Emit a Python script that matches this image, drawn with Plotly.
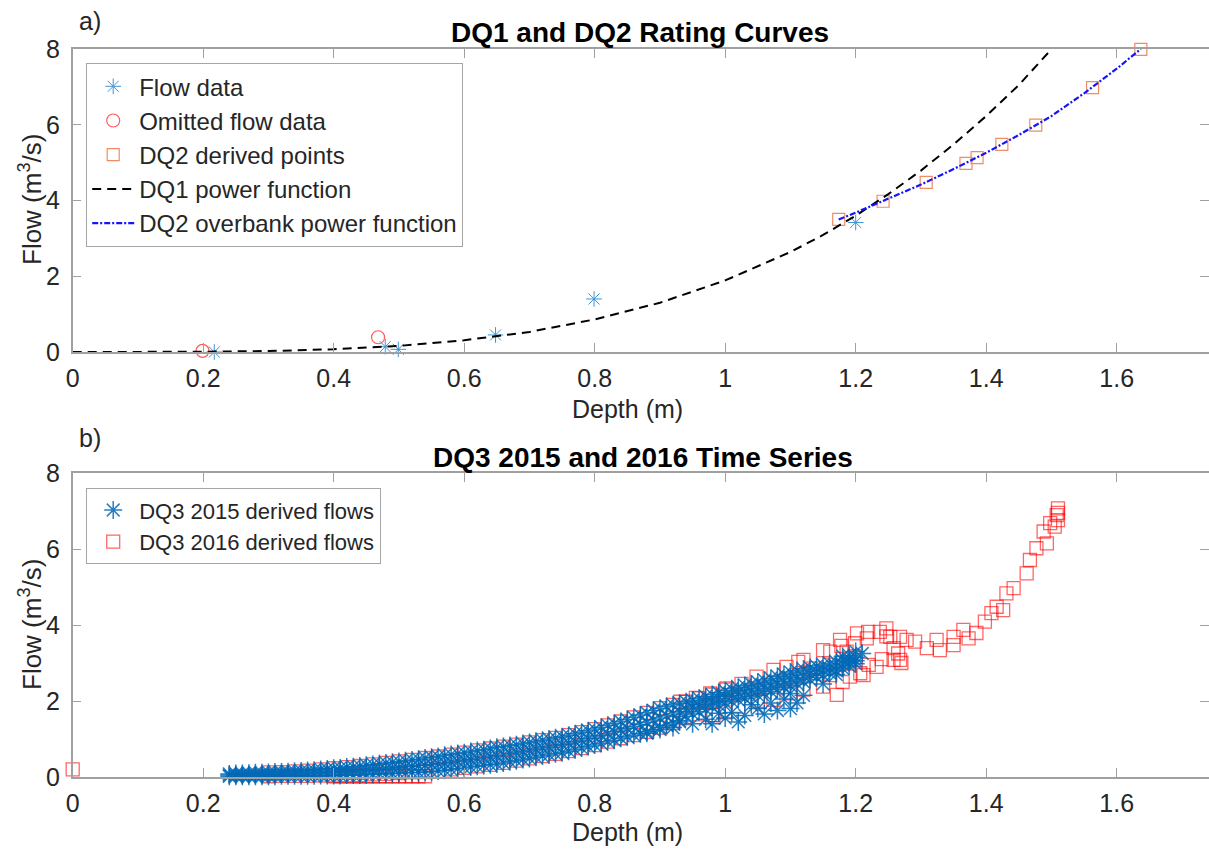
import plotly.graph_objects as go

# ---------------- Panel a) data ----------------
flow_depth = [0.217, 0.479, 0.499, 0.648, 0.799, 1.200]
flow_value = [0.00, 0.14, 0.07, 0.45, 1.40, 3.42]

omit_depth = [0.199, 0.468]
omit_value = [0.03, 0.39]

dq2_depth = [1.174, 1.242, 1.308, 1.369, 1.386, 1.424, 1.476, 1.563, 1.637]
dq2_value = [3.50, 3.98, 4.48, 4.98, 5.13, 5.48, 5.99, 6.98, 7.99]

dq1_curve_depth = [0.0, 0.1, 0.2, 0.3, 0.4, 0.5, 0.6, 0.7, 0.8, 0.9, 1.0, 1.1,
                   1.15, 1.2, 1.25, 1.3, 1.35, 1.4, 1.45, 1.495]
dq1_curve_flow = [0.0, 0.0005, 0.006, 0.026, 0.073, 0.16, 0.31, 0.53, 0.86, 1.30,
                  1.89, 2.64, 3.09, 3.60, 4.17, 4.79, 5.48, 6.23, 7.05, 7.90]

dq2_curve_depth = [1.174, 1.20, 1.25, 1.30, 1.35, 1.40, 1.45, 1.50, 1.55, 1.60, 1.637]
dq2_curve_flow = [3.50, 3.68, 4.05, 4.42, 4.83, 5.26, 5.73, 6.23, 6.83, 7.48, 8.00]

# ---------------- Panel b) data ----------------
depth_2015_band = [0.24, 0.25, 0.26, 0.27, 0.28, 0.29, 0.30, 0.31, 0.32, 0.33, 0.34, 0.35,
                   0.36, 0.37, 0.38, 0.39, 0.40, 0.41, 0.42, 0.43, 0.44, 0.45, 0.46, 0.47,
                   0.48, 0.49, 0.50, 0.51, 0.52, 0.53, 0.54, 0.55, 0.56, 0.57, 0.58, 0.59,
                   0.60, 0.61, 0.62, 0.63, 0.64, 0.65, 0.66, 0.67, 0.68, 0.69, 0.70, 0.71,
                   0.72, 0.73, 0.74, 0.75, 0.76, 0.77, 0.78, 0.79, 0.80, 0.81, 0.82, 0.83,
                   0.84, 0.85, 0.86, 0.87, 0.88, 0.89, 0.90, 0.91, 0.92, 0.93, 0.94, 0.95,
                   0.96, 0.97, 0.98, 0.99, 1.00, 1.01, 1.02, 1.03, 1.04, 1.05, 1.06, 1.07,
                   1.08, 1.09, 1.10, 1.11, 1.12, 1.13, 1.14, 1.15, 1.16, 1.17, 1.18, 1.19, 1.20]
flow_2015_hi = [0.08, 0.09, 0.09, 0.10, 0.11, 0.11, 0.12, 0.13, 0.13, 0.14, 0.15, 0.16,
                0.17, 0.18, 0.20, 0.21, 0.23, 0.24, 0.26, 0.27, 0.29, 0.31, 0.33, 0.35,
                0.37, 0.39, 0.41, 0.43, 0.45, 0.47, 0.50, 0.52, 0.54, 0.57, 0.59, 0.62,
                0.64, 0.67, 0.70, 0.72, 0.75, 0.78, 0.80, 0.83, 0.85, 0.88, 0.91, 0.94,
                0.97, 1.00, 1.03, 1.06, 1.10, 1.14, 1.18, 1.22, 1.26, 1.31, 1.36, 1.41,
                1.46, 1.51, 1.57, 1.63, 1.69, 1.75, 1.81, 1.86, 1.90, 1.94, 1.98, 2.02,
                2.07, 2.12, 2.17, 2.22, 2.27, 2.32, 2.36, 2.41, 2.45, 2.50, 2.55, 2.60,
                2.65, 2.70, 2.76, 2.80, 2.84, 2.88, 2.92, 2.95, 2.99, 3.03, 3.07, 3.11, 3.15]
flow_2015_mid = [0.05, 0.05, 0.05, 0.06, 0.06, 0.06, 0.07, 0.07, 0.08, 0.08, 0.09, 0.09,
                 0.10, 0.10, 0.12, 0.12, 0.13, 0.14, 0.15, 0.16, 0.17, 0.18, 0.20, 0.21,
                 0.22, 0.24, 0.25, 0.27, 0.28, 0.30, 0.31, 0.33, 0.35, 0.37, 0.39, 0.42,
                 0.44, 0.46, 0.49, 0.51, 0.53, 0.56, 0.58, 0.61, 0.64, 0.67, 0.70, 0.73,
                 0.76, 0.79, 0.82, 0.85, 0.89, 0.93, 0.97, 1.01, 1.05, 1.09, 1.14, 1.19,
                 1.24, 1.28, 1.33, 1.38, 1.44, 1.50, 1.55, 1.61, 1.66, 1.71, 1.79, 1.84,
                 1.90, 1.95, 2.00, 2.06, 2.11, 2.15, 2.20, 2.24, 2.28, 2.32, 2.37, 2.42,
                 2.47, 2.52, 2.58, 2.62, 2.67, 2.72, 2.77, 2.81, 2.86, 2.91, 2.96, 3.01, 3.06]
flow_2015_lo = [0.02, 0.02, 0.02, 0.02, 0.02, 0.02, 0.02, 0.02, 0.03, 0.03, 0.03, 0.03,
                0.03, 0.03, 0.04, 0.04, 0.04, 0.04, 0.05, 0.05, 0.05, 0.06, 0.07, 0.08,
                0.08, 0.09, 0.10, 0.11, 0.12, 0.12, 0.13, 0.14, 0.16, 0.18, 0.20, 0.22,
                0.24, 0.26, 0.28, 0.30, 0.32, 0.34, 0.37, 0.40, 0.43, 0.46, 0.49, 0.52,
                0.55, 0.58, 0.61, 0.64, 0.68, 0.72, 0.76, 0.80, 0.84, 0.88, 0.93, 0.97,
                1.02, 1.06, 1.10, 1.14, 1.19, 1.24, 1.30, 1.36, 1.42, 1.48, 1.60, 1.66,
                1.72, 1.78, 1.84, 1.90, 1.95, 1.99, 2.03, 2.07, 2.11, 2.15, 2.20, 2.25,
                2.30, 2.35, 2.40, 2.45, 2.50, 2.56, 2.62, 2.68, 2.74, 2.80, 2.86, 2.92, 2.98]

depth_2015_scatter = [0.88, 0.90, 0.92, 0.93, 0.95, 0.97, 0.98, 1.00, 1.01, 1.02, 1.03, 1.05,
                      1.06, 1.07, 1.08, 1.09, 1.10, 1.11, 1.12, 1.10, 1.04, 0.99, 1.15, 1.17,
                      1.19, 1.21, 1.20, 1.18]
flow_2015_scatter = [1.15, 1.25, 1.30, 1.45, 1.40, 1.52, 1.40, 1.55, 1.70, 1.45, 1.62, 1.80,
                     1.66, 1.95, 1.75, 2.05, 1.80, 1.95, 2.15, 2.20, 1.90, 1.68, 2.45, 2.70,
                     3.20, 3.25, 3.30, 3.18]

depth_2016_band = [0.30, 0.32, 0.34, 0.36, 0.38, 0.40, 0.42, 0.44, 0.46, 0.48, 0.50, 0.52,
                   0.54, 0.56, 0.58, 0.60, 0.62, 0.64, 0.66, 0.68, 0.70, 0.72, 0.74, 0.76,
                   0.78, 0.80, 0.82, 0.84, 0.86, 0.88, 0.90, 0.92, 0.94, 0.96, 0.98, 1.00]
flow_2016_hi = [0.12, 0.13, 0.15, 0.17, 0.20, 0.23, 0.26, 0.29, 0.33, 0.37, 0.41, 0.45,
                0.50, 0.54, 0.59, 0.64, 0.70, 0.75, 0.80, 0.85, 0.91, 0.97, 1.03, 1.10,
                1.18, 1.26, 1.36, 1.46, 1.57, 1.69, 1.81, 1.90, 1.98, 2.07, 2.17, 2.30]
flow_2016_lo = [0.02, 0.03, 0.03, 0.03, 0.04, 0.04, 0.05, 0.05, 0.07, 0.08, 0.10, 0.12,
                0.13, 0.16, 0.20, 0.24, 0.28, 0.32, 0.37, 0.43, 0.49, 0.55, 0.61, 0.68,
                0.76, 0.84, 0.93, 1.02, 1.10, 1.19, 1.30, 1.42, 1.55, 1.65, 1.63, 1.70]

depth_2016_zero = [0.00, 0.40, 0.41, 0.42, 0.43, 0.44, 0.45, 0.46, 0.47, 0.48, 0.49, 0.50,
                   0.51, 0.52, 0.53, 0.54]
flow_2016_zero = [0.20, 0.02, 0.02, 0.02, 0.02, 0.02, 0.02, 0.02, 0.02, 0.02, 0.02, 0.02,
                  0.02, 0.02, 0.02, 0.02]

depth_2016_high = [0.931, 0.955, 0.977, 1.002, 1.025, 1.048, 1.074, 1.094, 1.112, 1.120,
                   1.135, 1.150, 1.161, 1.161, 1.176, 1.178, 1.186, 1.191, 1.199, 1.202,
                   1.207, 1.212, 1.217, 1.219, 1.232, 1.237, 1.247, 1.247, 1.253, 1.258,
                   1.258, 1.268, 1.268, 1.278, 1.291, 1.309, 1.324, 1.329, 1.350, 1.350,
                   1.365, 1.373, 1.385, 1.398, 1.408, 1.416, 1.426, 1.431, 1.442, 1.462,
                   1.467, 1.477, 1.493, 1.488, 1.498, 1.505, 1.508, 1.510, 1.510, 1.510,
                   0.982, 1.020, 1.050, 1.074, 1.100, 1.120, 1.150, 1.171, 1.180, 1.220,
                   1.240, 1.270, 1.265]
flow_2016_high = [1.98, 2.08, 2.20, 2.33, 2.45, 2.64, 2.82, 2.90, 3.03, 3.08,
                  2.86, 3.34, 3.30, 2.68, 3.61, 3.45, 3.30, 2.64, 3.52, 3.78,
                  2.73, 2.68, 3.65, 3.82, 2.90, 3.82, 3.91, 3.70, 3.69, 3.39,
                  3.08, 3.08, 3.69, 3.61, 3.56, 3.39, 3.61, 3.34, 3.69, 3.47,
                  3.87, 3.65, 3.79, 4.09, 4.31, 4.48, 4.39, 4.83, 4.97, 5.36,
                  5.71, 6.02, 6.15, 6.46, 6.68, 6.59, 6.89, 7.07, 6.76, 6.95,
                  1.63, 1.85, 2.00, 2.03, 2.20, 2.30, 2.38, 2.16, 2.50, 2.95,
                  3.10, 3.00, 3.25]

x_tick_vals = [0, 0.2, 0.4, 0.6, 0.8, 1.0, 1.2, 1.4, 1.6]
x_tick_text = ["0", "0.2", "0.4", "0.6", "0.8", "1", "1.2", "1.4", "1.6"]
y_tick_vals = [0, 2, 4, 6, 8]
y_tick_text = ["0", "2", "4", "6", "8"]

FONT = "Liberation Sans, Arial, Helvetica, sans-serif"
AX = "#A0A0A0"
TXT = "#262626"

fig = go.Figure()

# ---- panel a traces ----
fig.add_trace(go.Scatter(x=flow_depth, y=flow_value, mode="markers", name="Flow data",
                         marker=dict(symbol="asterisk-open", size=13, color="rgb(60,150,215)",
                                     line=dict(color="rgb(60,150,215)", width=1)),
                         xaxis="x", yaxis="y", legend="legend", cliponaxis=False))
fig.add_trace(go.Scatter(x=omit_depth, y=omit_value, mode="markers", name="Omitted flow data",
                         marker=dict(symbol="circle-open", size=13, color="rgb(255,90,90)",
                                     line=dict(color="rgb(255,90,90)", width=1.2)),
                         xaxis="x", yaxis="y", legend="legend", cliponaxis=False))
fig.add_trace(go.Scatter(x=dq2_depth, y=dq2_value, mode="markers", name="DQ2 derived points",
                         marker=dict(symbol="square-open", size=12, color="rgb(240,140,100)",
                                     line=dict(color="rgb(240,140,100)", width=1.2)),
                         xaxis="x", yaxis="y", legend="legend", cliponaxis=False))
fig.add_trace(go.Scatter(x=dq1_curve_depth, y=dq1_curve_flow, mode="lines", name="DQ1 power function",
                         line=dict(color="black", width=2, dash="9px,6px"),
                         xaxis="x", yaxis="y", legend="legend"))
fig.add_trace(go.Scatter(x=dq2_curve_depth, y=dq2_curve_flow, mode="lines",
                         name="DQ2 overbank power function",
                         line=dict(color="rgb(20,20,255)", width=2.2, dash="6px,2px,2px,2px"),
                         xaxis="x", yaxis="y", legend="legend"))

# ---- panel b traces ----
d16 = depth_2016_band + depth_2016_band + depth_2016_zero + depth_2016_high
f16 = flow_2016_lo + flow_2016_hi + flow_2016_zero + flow_2016_high
fig.add_trace(go.Scatter(x=d16, y=f16, mode="markers", name="DQ3 2016 derived flows",
                         marker=dict(symbol="square-open", size=13, color="rgba(255,0,0,0.6)",
                                     line=dict(color="rgba(255,0,0,0.6)", width=1.3)),
                         xaxis="x2", yaxis="y2", legend="legend2", legendrank=2, cliponaxis=False))
d15 = depth_2015_band + depth_2015_band + depth_2015_band + depth_2015_scatter
f15 = flow_2015_lo + flow_2015_mid + flow_2015_hi + flow_2015_scatter
fig.add_trace(go.Scatter(x=d15, y=f15, mode="markers", name="DQ3 2015 derived flows",
                         marker=dict(symbol="asterisk-open", size=15, color="rgba(0,105,182,0.85)",
                                     line=dict(color="rgba(0,105,182,0.85)", width=1.5)),
                         xaxis="x2", yaxis="y2", legend="legend2", legendrank=1, cliponaxis=False))

W, H = 1209, 854
x_dom = [72.7 / W, 1.0]

def xax(anchor):
    return dict(domain=x_dom, range=[0, (W - 72.7) / 652.5], anchor=anchor, automargin=False,
                tickvals=x_tick_vals, ticktext=x_tick_text,
                showline=True, linecolor=AX, linewidth=1.5, mirror="ticks",
                ticks="inside", ticklen=9, tickcolor=AX, tickwidth=1.2,
                showgrid=False, zeroline=False, ticklabelstandoff=3,
                tickfont=dict(family=FONT, size=25, color=TXT))

def yax(anchor, dom):
    return dict(domain=dom, range=[0, 8], anchor=anchor, automargin=False,
                tickvals=y_tick_vals, ticktext=y_tick_text,
                showline=True, linecolor=AX, linewidth=1.5, mirror="ticks",
                ticks="inside", ticklen=9, tickcolor=AX, tickwidth=1.2,
                showgrid=False, zeroline=False, ticklabelstandoff=6,
                tickfont=dict(family=FONT, size=25, color=TXT))

ann = []
def add_text(px, py, text, size, angle=0, color=TXT):
    ann.append(dict(x=px / W, y=1 - py / H, xref="paper", yref="paper", text=text,
                    showarrow=False, xanchor="center", yanchor="middle", textangle=angle,
                    font=dict(family=FONT, size=size, color=color)))

add_text(90, 21, "a)", 25)
add_text(90, 438, "b)", 25)
add_text(640, 32, "<b>DQ1 and DQ2 Rating Curves</b>", 28, color="black")
add_text(643, 457, "<b>DQ3 2015 and 2016 Time Series</b>", 28, color="black")
add_text(627, 409, "Depth (m)", 25)
add_text(627, 832, "Depth (m)", 25)
add_text(30, 200, "Flow (m<sup>3</sup>/s)", 26, angle=-90)
add_text(30, 625, "Flow (m<sup>3</sup>/s)", 26, angle=-90)

fig.update_layout(
    width=W, height=H, margin=dict(l=0, r=0, t=0, b=0, autoexpand=False),
    paper_bgcolor="white", plot_bgcolor="white",
    xaxis=xax("y"), yaxis=yax("x", [1 - 352 / H, 1 - 49 / H]),
    xaxis2=xax("y2"), yaxis2=yax("x2", [1 - 777 / H, 1 - 473 / H]),
    annotations=ann,
    legend=dict(x=86 / W, y=1 - 63 / H, xanchor="left", yanchor="top",
                bgcolor="white", bordercolor="#A6A6A6", borderwidth=1.2,
                font=dict(family=FONT, size=24, color=TXT), itemwidth=42,
                tracegroupgap=0),
    legend2=dict(x=86 / W, y=1 - 488 / H, xanchor="left", yanchor="top",
                 bgcolor="white", bordercolor="#A6A6A6", borderwidth=1.2,
                 font=dict(family=FONT, size=22, color=TXT), itemwidth=42,
                 tracegroupgap=0),
    showlegend=True,
)

fig.write_html("out.html")
